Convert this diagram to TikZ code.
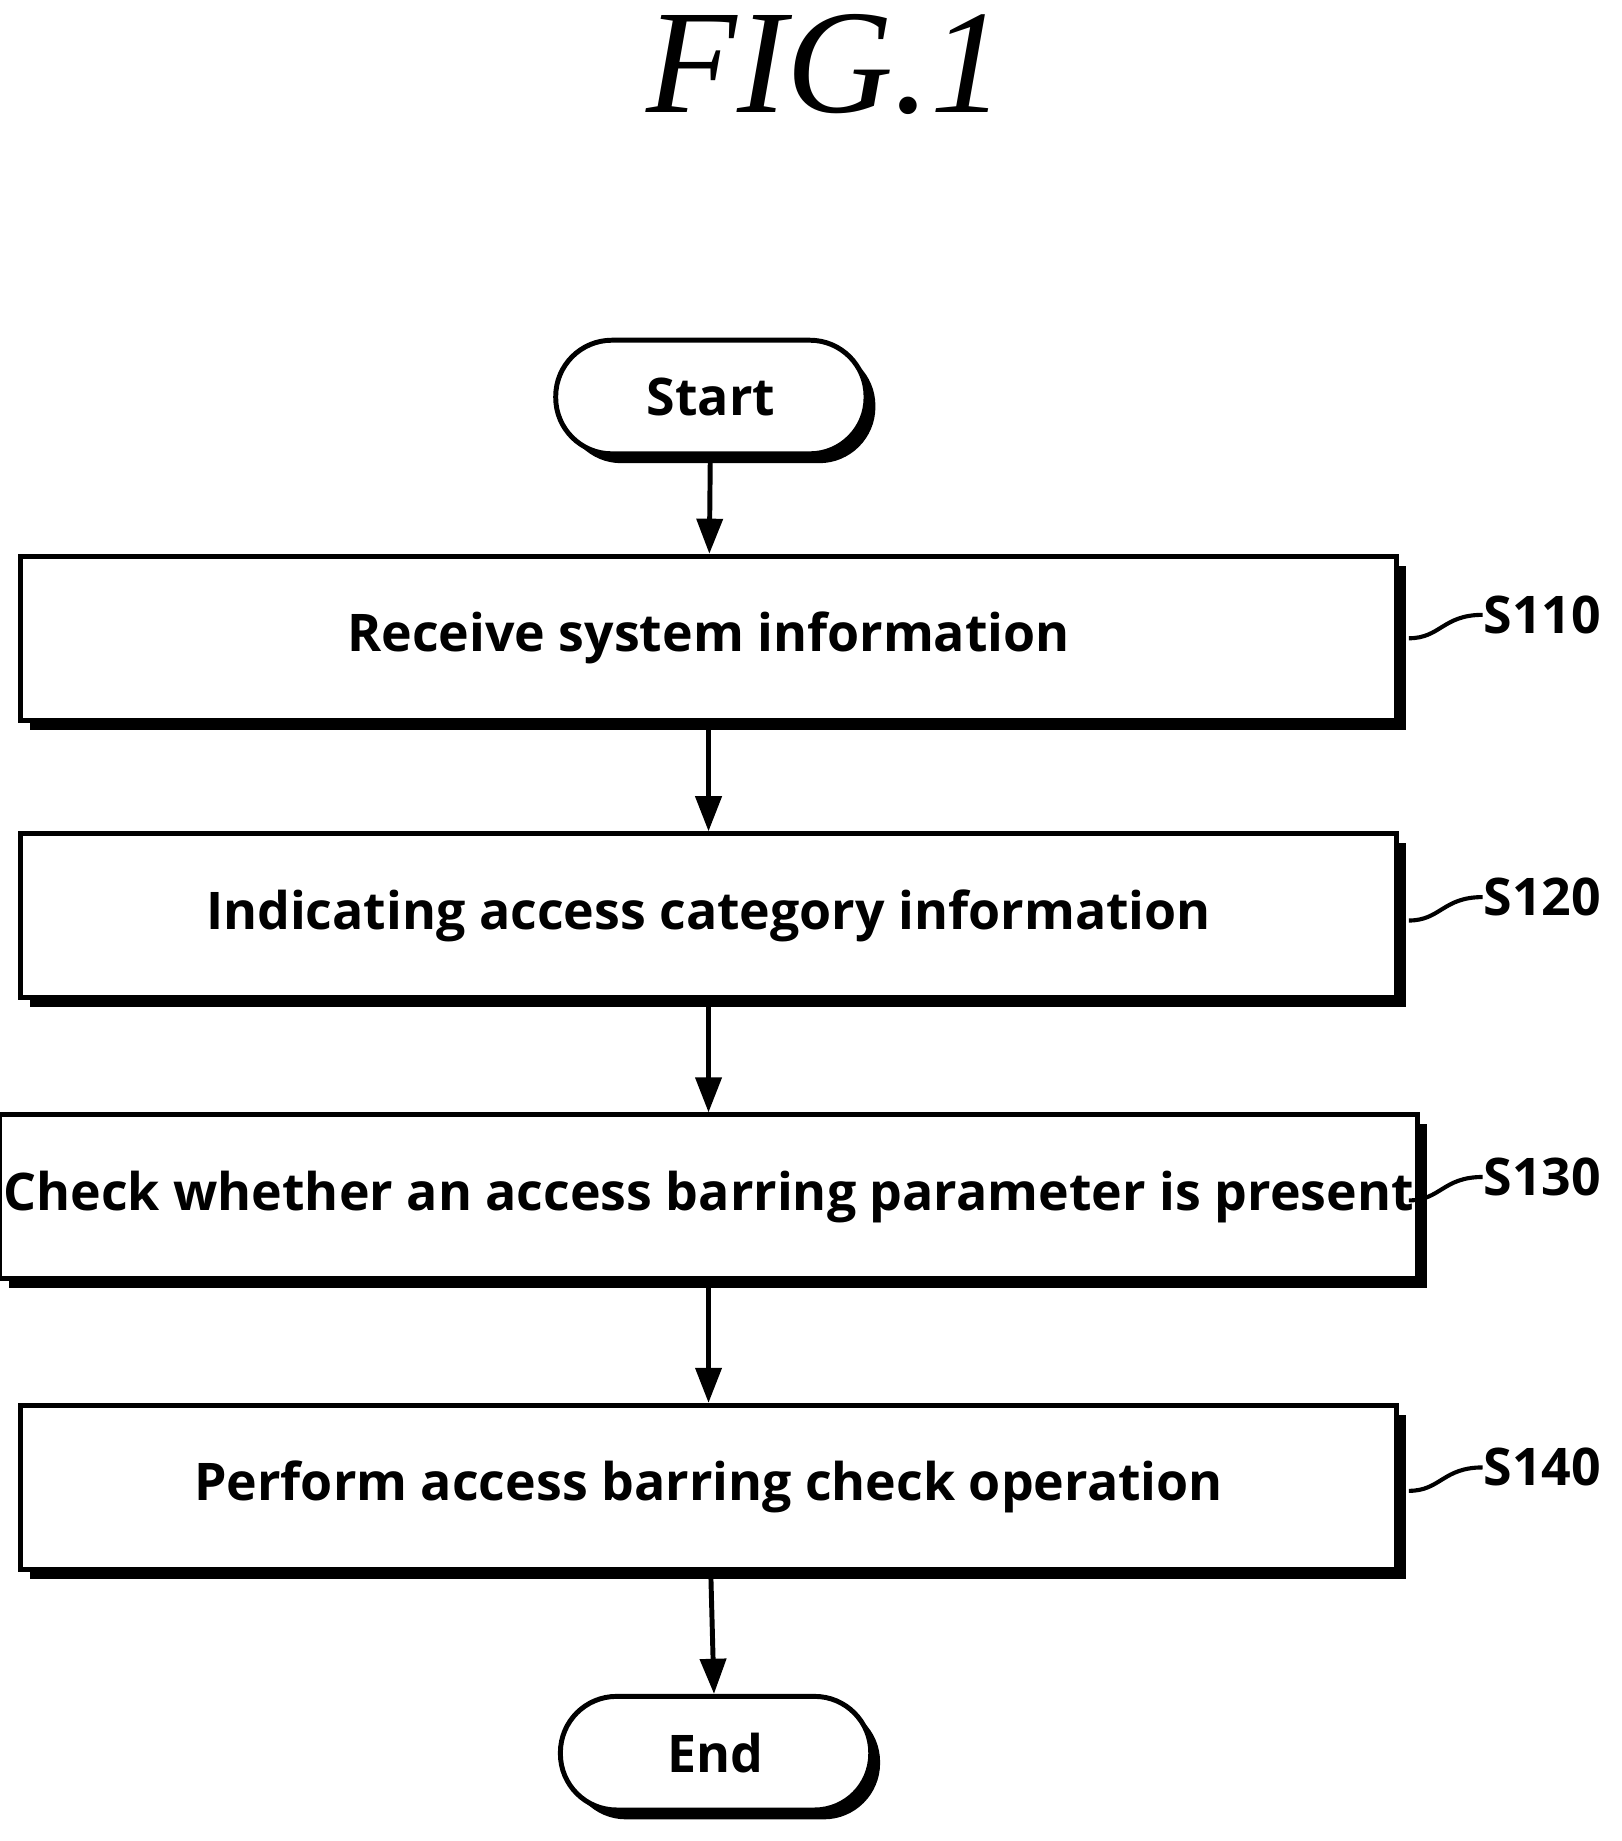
\documentclass[tikz,border=0pt]{standalone}
\usepackage{fontspec}
\setmainfont{Liberation Serif}
\setsansfont{Open Sans}
\usetikzlibrary{positioning,shadows,arrows.meta}
\begin{document}
\begin{tikzpicture}[x=0.1mm,y=-0.1mm,
    shad/.style = {drop shadow={opacity=1,fill=black,shadow xshift=0.8mm,shadow yshift=-0.8mm}},
    stepbox/.style = {draw,line width=1.2pt,fill=white,shad,minimum width=117.5mm,minimum height=14mm,inner sep=1pt,
                   font=\sffamily\bfseries\fontsize{12.6}{15}\selectfont},
    term/.style = {draw,line width=1.2pt,fill=white,shad,rounded corners=4.8mm,minimum width=26.5mm,minimum height=9.7mm,
                   font=\sffamily\bfseries\fontsize{12.6}{15}\selectfont},
    flow/.style = {line width=1.2pt,-{Triangle[width=2.2mm,length=3mm]}},
    lbl/.style  = {font=\sffamily\bfseries\fontsize{12.6}{15}\selectfont,anchor=west,inner sep=0pt}]
  \useasboundingbox (0,0) rectangle (1385,1572);
  \node[font=\itshape\fontsize{36}{42}\selectfont] (fig) at (705,55) {FIG.1};
  \node[term] (start) at (607,339) {Start};
  \node[stepbox] (s110) at (605,545) {Receive system information};
  \node[stepbox] (s120) at (605,782) {Indicating access category information};
  \node[stepbox] (s130) at (605,1022) {Check whether an access barring parameter is present};
  \node[stepbox] (s140) at (605,1270) {Perform access barring check operation};
  \node[term] (end) at (611,1497) {End};
  \draw[flow] (start) -- (s110);
  \draw[flow] (s110) -- (s120);
  \draw[flow] (s120) -- (s130);
  \draw[flow] (s130) -- (s140);
  \draw[flow] (s140) -- (end);
  % step labels
  \foreach \s/\y in {110/525,120/766,130/1005,140/1253}{
    \node[lbl] (l\s) at (1266,\y) {S\s};
    \draw[line width=1pt] (1203,\y+20) .. controls (1230,\y+20) and (1232,\y) .. (l\s.west);
  }
\end{tikzpicture}
\end{document}
